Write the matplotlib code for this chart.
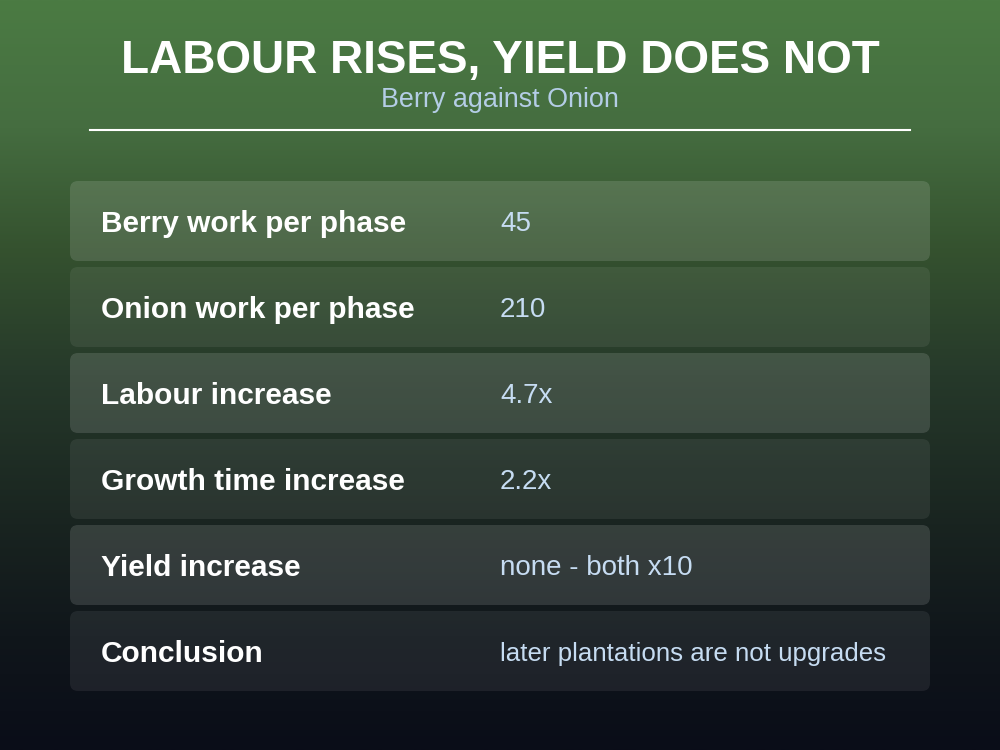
import numpy as np
import matplotlib.pyplot as plt
from matplotlib.colors import LinearSegmentedColormap
from matplotlib.patches import FancyBboxPatch
from matplotlib.font_manager import FontProperties, findfont

title = "LABOUR RISES, YIELD DOES NOT"
subtitle = "Berry against Onion"
labels = ["Berry work per phase", "Onion work per phase", "Labour increase",
          "Growth time increase", "Yield increase", "Conclusion"]
values = ["45", "210", "4.7x", "2.2x", "none - both x10",
          "later plantations are not upgrades"]

reg_path = findfont(FontProperties(family="Liberation Sans"))
bold_path = findfont(FontProperties(family="Liberation Sans", weight="bold"))


def fp(size, bold=False):
    return FontProperties(fname=bold_path if bold else reg_path, size=size)


fig = plt.figure(figsize=(10, 7.5), dpi=100)
ax = fig.add_axes([0, 0, 1, 1])
ax.set_xlim(0, 1000)
ax.set_ylim(750, 0)
ax.axis("off")

# background gradient, green top to near-black bottom
bg = LinearSegmentedColormap.from_list("bg", [
    (0.0, "#4b7b43"), (0.17, "#456d40"), (0.33, "#35522f"),
    (0.5, "#26392a"), (0.7, "#192420"), (0.85, "#10161b"), (1.0, "#0a0d18")])
grad = np.linspace(0, 1, 256).reshape(-1, 1)
ax.imshow(grad, cmap=bg, aspect="auto", extent=[0, 1000, 750, 0], zorder=0)

ax.text(500, 73, title, ha="center", va="baseline", color="white",
        fontproperties=fp(33, True))
ax.text(500, 107, subtitle, ha="center", va="baseline", color="#b4cde6",
        fontproperties=fp(19.4))
ax.plot([90, 910], [130, 130], color="white", lw=1.5)

top, row_h, gap = 181, 80, 6
for i, (lab, val) in enumerate(zip(labels, values)):
    y0 = top + i * (row_h + gap)
    alpha = 0.13 if i % 2 == 0 else 0.07
    box = FancyBboxPatch((70, y0), 860, row_h,
                         boxstyle="round,pad=0,rounding_size=8",
                         facecolor="white", alpha=alpha, edgecolor="none", zorder=2)
    ax.add_patch(box)
    yc = y0 + row_h / 2
    ax.text(101, yc + 11, lab, ha="left", va="baseline", color="white",
            fontproperties=fp(21.5, True), zorder=3)
    fs = 20 if i < len(values) - 1 else 18.6
    ax.text(500, yc + 10, val, ha="left", va="baseline", color="#c6dcf2",
            fontproperties=fp(fs), zorder=3)

fig.savefig("out.png", dpi=100)
